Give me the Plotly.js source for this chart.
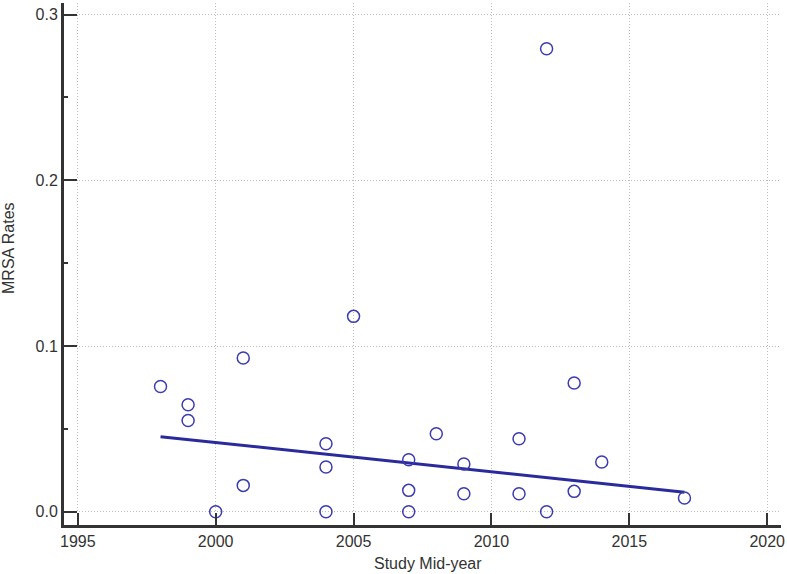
<!DOCTYPE html>
<html>
<head>
<meta charset="utf-8">
<script src="https://cdn.plot.ly/plotly-3.0.1.min.js"></script>
<style>html,body{margin:0;padding:0;background:#fff}#chart{width:787px;height:574px}</style>
</head>
<body>
<div id="chart"></div>
<script>
const studyYear = [1998, 1999, 1999, 2000, 2001, 2001, 2004, 2004, 2004, 2005, 2007, 2007, 2007, 2008, 2009, 2009, 2011, 2011, 2012, 2012, 2013, 2013, 2014, 2017];
const mrsaRate  = [0.0756, 0.0646, 0.0551, 0.0, 0.0928, 0.0159, 0.041, 0.027, 0.0, 0.1179, 0.0314, 0.0129, 0.0, 0.0471, 0.0288, 0.0109, 0.044, 0.0109, 0.2794, 0.0, 0.0777, 0.0123, 0.030, 0.0083];
const trendYear = [1998, 2017];
const trendRate = [0.0453, 0.0117];
const xTicks = [1995, 2000, 2005, 2010, 2015, 2020];
const yTicks = [0.0, 0.1, 0.2, 0.3];
const yTickText = ['0.0', '0.1', '0.2', '0.3'];

const font = {family: 'Liberation Sans, Arial, sans-serif', size: 16, color: '#333'};
const data = [
  {x: trendYear, y: trendRate, type: 'scatter', mode: 'lines',
   line: {color: '#2a2a9c', width: 3}, hoverinfo: 'skip'},
  {x: studyYear, y: mrsaRate, type: 'scatter', mode: 'markers',
   marker: {symbol: 'circle-open', size: 12, color: '#3c3cb0', line: {width: 1.5, color: '#3c3cb0'}}}
];
const layout = {
  width: 787, height: 574,
  margin: {l: 64, r: 6, t: 3, b: 49},
  paper_bgcolor: '#fff', plot_bgcolor: '#fff',
  showlegend: false,
  font: font,
  xaxis: {
    range: [1994.5, 2020.5], tickvals: xTicks, ticks: 'inside', ticklen: 12, tickwidth: 2, tickcolor: '#333',
    showline: true, linewidth: 3, linecolor: '#333', mirror: false,
    showgrid: true, gridcolor: '#bdbdbd', griddash: '1px,2px', gridwidth: 1, zeroline: false,
    tickfont: font, title: {text: ''}
  },
  yaxis: {
    range: [-0.008, 0.307], tickvals: yTicks, ticktext: yTickText, ticks: 'inside', ticklen: 13, tickwidth: 2, tickcolor: '#333',
    showline: true, linewidth: 3, linecolor: '#333',
    showgrid: true, gridcolor: '#bdbdbd', griddash: '1px,2px', gridwidth: 1, zeroline: false,
    minor: {dtick: 0.05, tick0: 0, ticks: 'inside', ticklen: 4, tickwidth: 2, tickcolor: '#333', showgrid: false},
    tickfont: font, title: {text: ''}
  },
  annotations: [
    {text: 'Study Mid-year', xref: 'paper', yref: 'paper', x: (428 - 64) / 717, y: (525 - 563) / 522,
     xanchor: 'center', yanchor: 'middle', showarrow: false, font: font},
    {text: 'MRSA Rates', xref: 'paper', yref: 'paper', x: (9 - 64) / 717, y: (525 - 248) / 522,
     xanchor: 'center', yanchor: 'middle', textangle: -90, showarrow: false, font: font}
  ]
};
Plotly.newPlot('chart', data, layout, {displayModeBar: false, staticPlot: true});
</script>
</body>
</html>
